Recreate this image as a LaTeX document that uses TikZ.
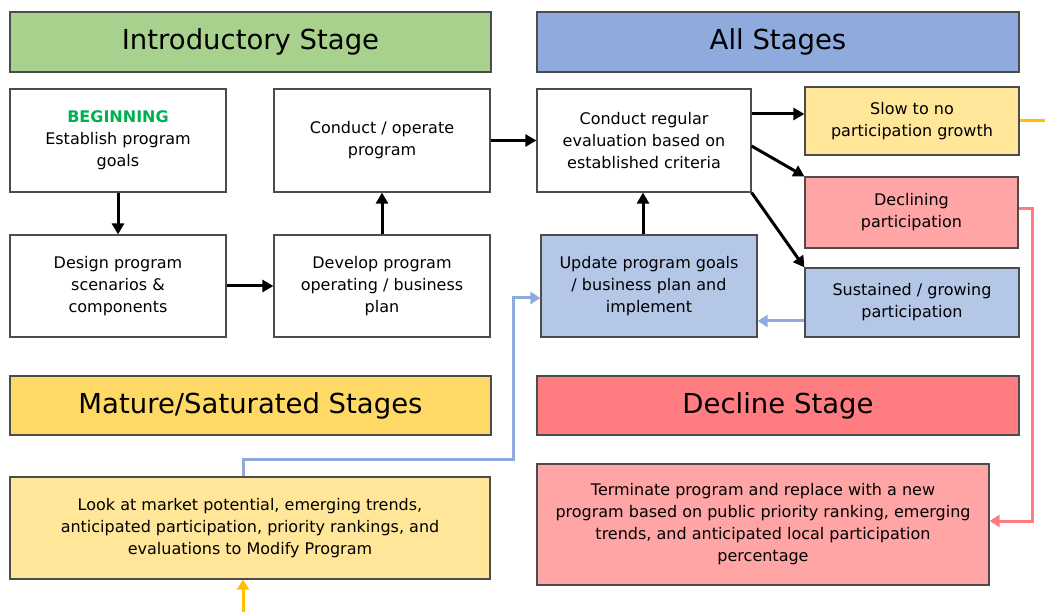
\documentclass[tikz,border=0pt]{standalone}
\usepackage{fontspec}
\setmainfont{DejaVu Sans}
\usetikzlibrary{arrows.meta}
\definecolor{IntroGreen}{HTML}{A9D18E}
\definecolor{AllBlue}{HTML}{8FAADC}
\definecolor{PaleBlue}{HTML}{B4C7E7}
\definecolor{MatureGold}{HTML}{FFD966}
\definecolor{PaleGold}{HTML}{FFE699}
\definecolor{DeclineRed}{HTML}{FF7C80}
\definecolor{PaleRed}{HTML}{FFA5A5}
\definecolor{BeginGreen}{HTML}{00B050}
\definecolor{LineOrange}{HTML}{FFC000}

\begin{document}
\begin{tikzpicture}[
    x=1pt, y=-1pt,
    stage/.style={rectangle, draw=black!70, line width=1.2pt, inner sep=0pt,
                  minimum width=481pt, minimum height=60pt,
                  font=\fontsize{27.5}{32}\selectfont},
    box/.style={rectangle, draw=black!70, line width=1.2pt, fill=white, inner sep=0pt,
                minimum width=216pt, minimum height=103pt, align=center,
                font=\fontsize{16}{22}\selectfont},
    conn/.style={-{Triangle[length=11pt, width=12pt]}, line width=3pt, black},
    bluelink/.style={-{Triangle[length=10pt, width=12pt]}, line width=3pt, AllBlue},
    redlink/.style={-{Triangle[length=10pt, width=12pt]}, line width=3pt, DeclineRed},
    orangelink/.style={-{Triangle[length=10pt, width=12pt]}, line width=3pt, LineOrange}
]
  \useasboundingbox (0,0) rectangle (1045,612);
  % Stage headers
  \node[stage, fill=IntroGreen] (intro) at (250.5,42) {Introductory Stage};
  \node[stage, fill=AllBlue, minimum width=482pt] (allst) at (778,42) {All Stages};
  \node[stage, fill=MatureGold, minimum height=59pt] (mature) at (250.5,405.5) {Mature/Saturated Stages};
  \node[stage, fill=DeclineRed, minimum width=482pt, minimum height=59pt] (decline) at (778,405.5) {Decline Stage};
  % Introductory steps
  \node[box] (begin) at (118,140.5) {\textbf{\color{BeginGreen}BEGINNING}\\Establish program\\goals};
  \node[box] (operate) at (382,140.5) {Conduct / operate\\program};
  \node[box, minimum height=102pt] (design) at (118,286) {Design program\\scenarios \&\\components};
  \node[box, minimum height=102pt] (develop) at (382,286) {Develop program\\operating / business\\plan};
  % All stages
  \node[box, minimum width=214pt] (eval) at (644,140.5) {Conduct regular\\evaluation based on\\established criteria};
  \node[box, fill=PaleBlue, minimum height=102pt] (update) at (649,286) {Update program goals\\/ business plan and\\implement};
  \node[box, fill=PaleGold, minimum width=214pt, minimum height=68pt] (slow) at (912,121) {Slow to no\\participation growth};
  \node[box, fill=PaleRed, minimum width=213pt, minimum height=71pt] (declining) at (911.5,212.5) {Declining\\participation};
  \node[box, fill=PaleBlue, minimum width=214pt, minimum height=69pt] (sustained) at (912,302.5) {Sustained / growing\\participation};
  % Mature and decline actions
  \node[box, fill=PaleGold, minimum width=480pt, minimum height=102pt] (look) at (250,528) {Look at market potential, emerging trends,\\anticipated participation, priority rankings, and\\evaluations to Modify Program};
  \node[box, fill=PaleRed, minimum width=452pt, minimum height=121pt] (terminate) at (763,524.5) {Terminate program and replace with a new\\program based on public priority ranking, emerging\\trends, and anticipated local participation\\percentage};

  \coordinate (slowout) at (1045,121);
  \coordinate (lookin) at (243,612);
  \coordinate (mbend) at (513,459);
  \coordinate (dbend) at (1032,521);

  \draw[conn] (begin.south) -- (design.north);
  \draw[conn] (design.east) -- (develop.west);
  \draw[conn] (develop.north) -- (operate.south);
  \draw[conn] (operate.east) -- (eval.west);
  \draw[conn] (update.north -| 643,0) -- (eval.south -| 643,0);
  \draw[conn] ([yshift=26.5pt]eval.east) -- ([yshift=26.5pt]eval.east -| slow.west);
  \draw[conn] ([yshift=-5.5pt]eval.east) -- (declining.north west);
  \draw[conn] (eval.south east) -- (sustained.north west);
  \draw[bluelink] ([yshift=-18.5pt]sustained.west) -- ([yshift=-18.5pt]sustained.west -| update.east);
  \draw[bluelink] ([xshift=-7pt]look.north) |- (mbend) |- ([yshift=-12pt]update.west);
  \draw[redlink] ([yshift=4pt]declining.east) -| (dbend) -- (dbend -| terminate.east);
  \draw[LineOrange, line width=3pt] (slow.east) -- (slowout);
  \draw[orangelink] (lookin) -- (lookin |- look.south);
\end{tikzpicture}
\end{document}
